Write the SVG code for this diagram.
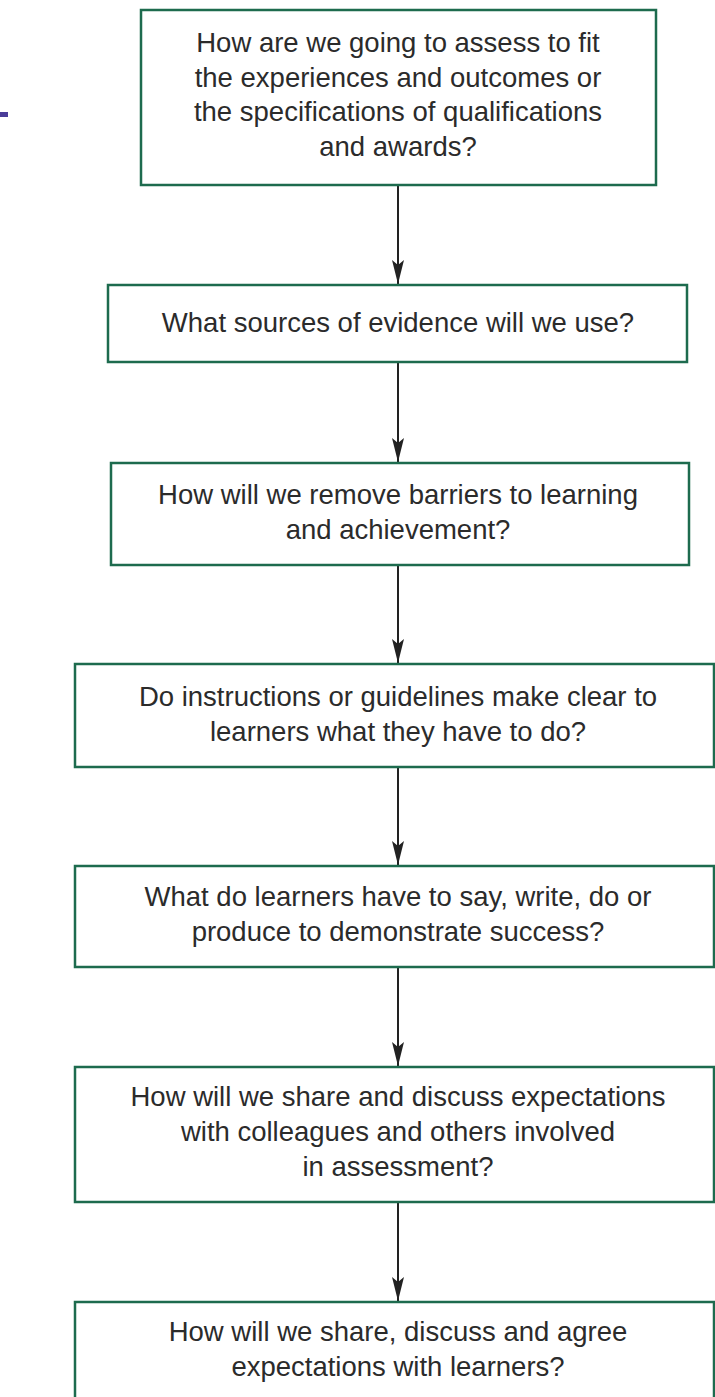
<svg xmlns="http://www.w3.org/2000/svg" width="715" height="1397" viewBox="0 0 715 1397">
<defs>
<style>
.box{fill:#ffffff;stroke:#1d6b4e;stroke-width:2.5}
.t{font-family:"Liberation Sans",Arial,sans-serif;font-size:27.5px;fill:#2b2b2b;text-anchor:middle}
.c{stroke:#222;stroke-width:2;fill:none}
</style>
<marker id="ah" markerWidth="24" markerHeight="12" refX="24" refY="6" orient="auto" markerUnits="userSpaceOnUse" viewBox="0 0 24 12">
<path d="M0,0 L24,6 L0,12 L5,6 Z" fill="#222"/>
</marker>
</defs>
<rect width="715" height="1397" fill="#ffffff"/>
<rect x="0" y="112" width="8" height="5" fill="#4b3d99"/>
<g id="connectors">
<line class="c" x1="398" y1="186" x2="398" y2="284" marker-end="url(#ah)"/>
<line class="c" x1="398" y1="362" x2="398" y2="462" marker-end="url(#ah)"/>
<line class="c" x1="398" y1="565" x2="398" y2="663" marker-end="url(#ah)"/>
<line class="c" x1="398" y1="767" x2="398" y2="865" marker-end="url(#ah)"/>
<line class="c" x1="398" y1="967" x2="398" y2="1066" marker-end="url(#ah)"/>
<line class="c" x1="398" y1="1202" x2="398" y2="1301" marker-end="url(#ah)"/>
</g>
<g id="n1">
<rect class="box" x="141" y="10" width="515" height="175"/>
<text class="t" x="398" y="52">How are we going to assess to fit</text>
<text class="t" x="398" y="87">the experiences and outcomes or</text>
<text class="t" x="398" y="121">the specifications of qualifications</text>
<text class="t" x="398" y="156">and awards?</text>
</g>
<g id="n2">
<rect class="box" x="108" y="285" width="579" height="77"/>
<text class="t" x="398" y="332">What sources of evidence will we use?</text>
</g>
<g id="n3">
<rect class="box" x="111" y="463" width="578" height="102"/>
<text class="t" x="398" y="504">How will we remove barriers to learning</text>
<text class="t" x="398" y="539">and achievement?</text>
</g>
<g id="n4">
<rect class="box" x="75" y="664" width="639" height="103"/>
<text class="t" x="398" y="706">Do instructions or guidelines make clear to</text>
<text class="t" x="398" y="741">learners what they have to do?</text>
</g>
<g id="n5">
<rect class="box" x="75" y="866" width="639" height="101"/>
<text class="t" x="398" y="906">What do learners have to say, write, do or</text>
<text class="t" x="398" y="941">produce to demonstrate success?</text>
</g>
<g id="n6">
<rect class="box" x="75" y="1067" width="639" height="135"/>
<text class="t" x="398" y="1106">How will we share and discuss expectations</text>
<text class="t" x="398" y="1141">with colleagues and others involved</text>
<text class="t" x="398" y="1176">in assessment?</text>
</g>
<g id="n7">
<rect class="box" x="75" y="1302" width="639" height="110"/>
<text class="t" x="398" y="1341">How will we share, discuss and agree</text>
<text class="t" x="398" y="1376">expectations with learners?</text>
</g>
</svg>
